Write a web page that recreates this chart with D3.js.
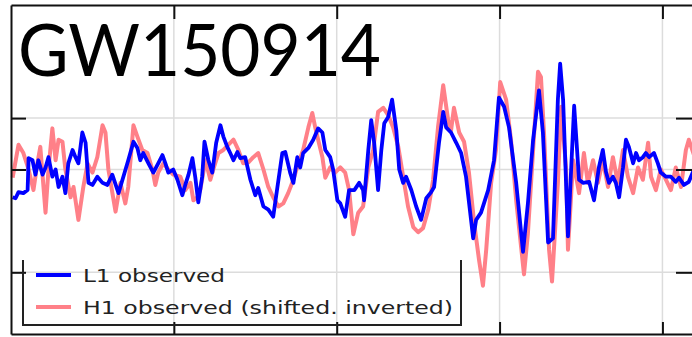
<!DOCTYPE html>
<html>
<head>
<meta charset="utf-8">
<script src="https://cdn.jsdelivr.net/npm/d3@7"></script>
<style>
  html, body { margin: 0; padding: 0; background: #fff; }
  svg { display: block; }
</style>
</head>
<body>
<svg id="chart" width="692" height="337"></svg>
<script>
// ---- data ----
const title = "GW150914";
const seriesNames = ["L1 observed", "H1 observed (shifted. inverted)"];
const xTicks = [0.30, 0.35, 0.40, 0.45];
const yTicks = [-1.0, 0.0, 0.5];

const l1Time = [0.2505,0.2514,0.2523,0.2538,0.2551,0.2554,0.2566,0.2575,0.2584,0.2597,0.2606,0.2615,0.2627,0.2637,0.2646,0.2658,0.2667,0.2676,0.2689,0.2698,0.2707,0.2719,0.2729,0.2738,0.2750,0.2765,0.2781,0.2796,0.2811,0.2830,0.2845,0.2860,0.2876,0.2888,0.2897,0.2906,0.2922,0.2937,0.2952,0.2965,0.2974,0.2983,0.2998,0.3011,0.3026,0.3035,0.3045,0.3057,0.3066,0.3075,0.3087,0.3094,0.3106,0.3118,0.3130,0.3143,0.3152,0.3164,0.3173,0.3183,0.3195,0.3204,0.3219,0.3235,0.3250,0.3259,0.3275,0.3290,0.3305,0.3318,0.3333,0.3342,0.3357,0.3367,0.3379,0.3388,0.3397,0.3413,0.3428,0.3443,0.3456,0.3465,0.3480,0.3489,0.3502,0.3511,0.3526,0.3538,0.3554,0.3569,0.3581,0.3584,0.3597,0.3606,0.3615,0.3627,0.3637,0.3646,0.3658,0.3670,0.3683,0.3692,0.3704,0.3713,0.3729,0.3744,0.3759,0.3775,0.3790,0.3799,0.3814,0.3827,0.3836,0.3851,0.3867,0.3882,0.3897,0.3919,0.3928,0.3943,0.3965,0.3983,0.3998,0.4014,0.4029,0.4051,0.4072,0.4087,0.4103,0.4121,0.4133,0.4149,0.4164,0.4179,0.4186,0.4195,0.4210,0.4229,0.4244,0.4256,0.4275,0.4290,0.4305,0.4317,0.4327,0.4336,0.4348,0.4357,0.4367,0.4379,0.4388,0.4397,0.4410,0.4419,0.4428,0.4440,0.4449,0.4459,0.4474,0.4486,0.4495,0.4511,0.4526,0.4541,0.4551,0.4566,0.4581,0.4597];
const l1Strain = [-0.27,-0.28,-0.22,-0.23,-0.20,0.11,0.09,-0.05,0.09,-0.05,0.02,0.12,-0.07,0.00,-0.17,-0.07,-0.23,0.06,0.19,0.12,0.06,0.36,0.26,-0.13,-0.15,-0.07,-0.13,-0.15,-0.05,-0.23,-0.07,0.09,0.27,0.21,0.09,0.16,0.06,-0.03,0.06,0.14,0.06,-0.03,0.00,-0.10,-0.25,-0.15,-0.05,0.11,-0.08,-0.32,-0.07,0.27,0.09,-0.03,0.26,0.43,0.32,0.22,0.16,0.09,0.17,0.11,0.12,-0.10,-0.25,-0.18,-0.36,-0.39,-0.46,-0.17,0.16,0.17,-0.03,-0.13,0.12,0.02,0.16,0.21,0.29,0.40,0.36,0.19,0.12,0.00,-0.30,-0.33,-0.46,-0.20,-0.20,-0.13,-0.20,-0.30,0.19,0.48,0.26,-0.20,0.19,0.45,0.51,0.68,0.38,0.00,-0.13,-0.07,-0.20,-0.36,-0.49,-0.28,-0.22,-0.17,0.26,0.56,0.41,0.36,0.26,0.16,-0.07,-0.67,-0.49,-0.42,-0.20,0.09,0.70,0.61,0.41,-0.13,-0.80,-0.33,0.29,0.77,0.36,-0.71,-0.67,0.68,1.03,0.68,-0.65,0.62,-0.10,-0.13,-0.12,-0.30,0.02,0.19,-0.03,-0.13,-0.07,-0.13,-0.27,0.02,0.29,0.22,0.06,0.16,0.09,0.12,0.16,0.12,0.16,0.06,-0.03,-0.07,-0.07,-0.12,-0.08,-0.15,-0.12,0.00];

const h1Time = [0.2505,0.2523,0.2538,0.2554,0.2569,0.2581,0.2590,0.2606,0.2615,0.2627,0.2637,0.2646,0.2658,0.2667,0.2683,0.2692,0.2707,0.2722,0.2735,0.2750,0.2765,0.2781,0.2790,0.2799,0.2821,0.2836,0.2851,0.2860,0.2876,0.2888,0.2903,0.2919,0.2934,0.2943,0.2952,0.2968,0.2983,0.2998,0.3020,0.3035,0.3051,0.3060,0.3072,0.3081,0.3097,0.3112,0.3121,0.3137,0.3152,0.3167,0.3183,0.3198,0.3213,0.3229,0.3244,0.3259,0.3275,0.3290,0.3305,0.3321,0.3336,0.3351,0.3367,0.3382,0.3397,0.3413,0.3425,0.3434,0.3443,0.3456,0.3465,0.3480,0.3495,0.3511,0.3526,0.3538,0.3551,0.3566,0.3581,0.3597,0.3612,0.3627,0.3643,0.3658,0.3673,0.3689,0.3704,0.3719,0.3735,0.3750,0.3765,0.3781,0.3796,0.3811,0.3827,0.3842,0.3851,0.3860,0.3876,0.3891,0.3906,0.3922,0.3937,0.3949,0.3959,0.3974,0.3989,0.4002,0.4020,0.4035,0.4051,0.4075,0.4087,0.4103,0.4118,0.4127,0.4137,0.4152,0.4161,0.4179,0.4189,0.4204,0.4210,0.4226,0.4235,0.4244,0.4259,0.4271,0.4287,0.4302,0.4317,0.4333,0.4348,0.4363,0.4379,0.4394,0.4410,0.4425,0.4440,0.4456,0.4465,0.4480,0.4495,0.4511,0.4526,0.4541,0.4557,0.4572,0.4581,0.4597];
const h1Strain = [-0.08,0.24,0.16,0.00,-0.20,0.06,0.22,-0.42,0.00,0.40,0.09,0.29,0.27,0.00,-0.27,-0.17,-0.49,-0.17,0.06,-0.03,0.12,0.43,0.36,0.00,-0.41,-0.13,-0.33,-0.17,0.43,0.32,0.19,0.16,0.00,-0.15,-0.03,0.06,0.00,-0.05,-0.07,-0.20,-0.13,-0.30,-0.27,-0.20,0.09,-0.10,0.00,0.16,0.19,0.24,0.29,0.19,0.06,0.07,0.12,0.16,0.00,-0.17,-0.27,-0.36,-0.33,-0.23,-0.10,0.06,0.19,0.41,0.55,0.41,0.29,0.12,-0.08,0.02,-0.03,0.02,-0.03,-0.20,-0.63,-0.42,-0.36,0.02,0.19,0.56,0.60,0.53,0.41,0.22,-0.07,-0.36,-0.56,-0.61,-0.57,-0.39,-0.10,0.41,0.82,0.48,0.38,0.60,0.36,0.27,-0.03,-0.52,-0.88,-1.13,-0.78,-0.13,0.19,0.85,0.68,0.29,-0.30,-1.02,-0.62,0.19,0.95,0.90,0.32,-0.78,-1.09,-0.13,0.61,0.02,-0.78,0.09,-0.07,-0.23,0.16,-0.13,0.09,-0.13,0.09,-0.17,0.12,-0.13,0.19,-0.07,-0.23,0.02,-0.10,0.26,-0.07,-0.20,0.00,-0.10,-0.20,0.02,-0.17,0.19,0.29,0.14];

// ---- layout ----
const svg = d3.select("#chart");
const pL = 11, pR = 695, pT = 5, pB = 334;
const x = d3.scaleLinear().domain([0.25, 0.46]).range([pL, pR]);
const y = d3.scaleLinear().domain([-1.6, 1.6]).range([pB, pT]);

// soft edge, like the slightly blurred reference
const defs = svg.append("defs");
defs.append("filter").attr("id", "soft")
  .append("feGaussianBlur").attr("stdDeviation", 0.6);

// gridlines
const grid = svg.append("g").attr("stroke", "#dcdcdc").attr("stroke-width", 1.5);
grid.selectAll("line.vx").data(xTicks).join("line")
  .attr("x1", d => x(d)).attr("x2", d => x(d))
  .attr("y1", pT).attr("y2", pB);
grid.selectAll("line.hy").data(yTicks).join("line")
  .attr("x1", pL).attr("x2", pR)
  .attr("y1", d => y(d)).attr("y2", d => y(d));

// lines
const lineGen = (times, vals) => d3.line()
  .x((d, i) => x(times[i]))
  .y((d, i) => y(vals[i]))(vals);

const lines = svg.append("g").attr("filter", "url(#soft)");
lines.append("path")
  .attr("d", lineGen(h1Time, h1Strain))
  .attr("fill", "none")
  .attr("stroke", "rgb(255,128,136)")
  .attr("stroke-width", 4)
  .attr("stroke-linejoin", "round");

lines.append("path")
  .attr("d", lineGen(l1Time, l1Strain))
  .attr("fill", "none")
  .attr("stroke", "#0000ff")
  .attr("stroke-width", 3.8)
  .attr("stroke-linejoin", "round");

// axes (ticks inward, no labels)
function styleAxis(g) {
  g.selectAll("text").remove();
  g.selectAll("path.domain").attr("stroke", "#111").attr("stroke-width", 2);
  g.selectAll(".tick line").attr("stroke", "#111").attr("stroke-width", 2);
}
svg.append("g").attr("transform", `translate(0,${pT})`)
  .call(d3.axisBottom(x).tickValues(xTicks).tickSizeInner(14).tickSizeOuter(0).tickFormat(""))
  .call(styleAxis);
svg.append("g").attr("transform", `translate(0,${pB})`)
  .call(d3.axisTop(x).tickValues(xTicks).tickSizeInner(12).tickSizeOuter(0).tickFormat(""))
  .call(styleAxis);
svg.append("g").attr("transform", `translate(${pL},0)`)
  .call(d3.axisRight(y).tickValues(yTicks).tickSizeInner(15).tickSizeOuter(0).tickFormat(""))
  .call(styleAxis);
svg.append("g").attr("transform", `translate(${pR},0)`)
  .call(d3.axisLeft(y).tickValues(yTicks).tickSizeInner(19).tickSizeOuter(0).tickFormat(""))
  .call(styleAxis);

// title
svg.append("text")
  .attr("x", 18).attr("y", 76)
  .attr("font-family", "Lato, 'Open Sans', sans-serif")
  .attr("font-weight", 400)
  .attr("font-size", 71)
  .attr("fill", "#000")
  .attr("textLength", 363)
  .attr("lengthAdjust", "spacingAndGlyphs")
  .text(title);

// legend
const lg = svg.append("g");
lg.append("path")
  .attr("d", "M23,260 V325 H461 V260")
  .attr("fill", "none").attr("stroke", "#222").attr("stroke-width", 2);
const legendColors = ["#0000ff", "rgb(255,128,136)"];
const legendY = [275, 307];
const legendW = [142, 370];
seriesNames.forEach((name, i) => {
  lg.append("line")
    .attr("x1", 36).attr("x2", 71)
    .attr("y1", legendY[i]).attr("y2", legendY[i])
    .attr("stroke", legendColors[i]).attr("stroke-width", 4);
  lg.append("text")
    .attr("x", 83).attr("y", legendY[i] + 7)
    .attr("font-family", "'DejaVu Sans', sans-serif")
    .attr("font-size", 18)
    .attr("fill", "#222")
    .attr("textLength", legendW[i])
    .attr("lengthAdjust", "spacingAndGlyphs")
    .text(name);
});
</script>
</body>
</html>
